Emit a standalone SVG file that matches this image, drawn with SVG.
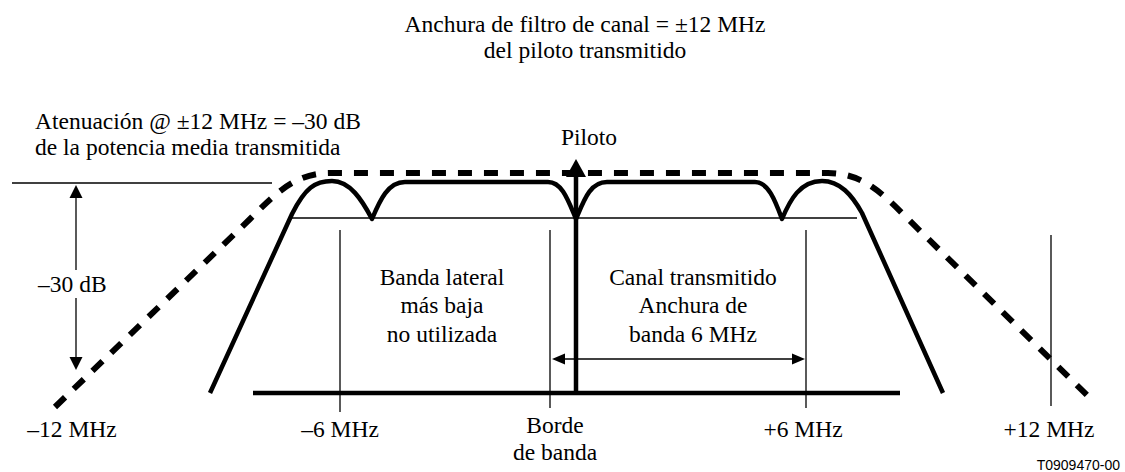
<svg xmlns="http://www.w3.org/2000/svg" width="1125" height="472" viewBox="0 0 1125 472">
<style>
.t{font-family:"Liberation Serif","Times New Roman",serif;font-size:23.5px;fill:#000}
.c{text-anchor:middle}
.s{font-family:"Liberation Sans",Arial,sans-serif;font-size:14px;fill:#000;text-anchor:end}
.thin{stroke:#000;stroke-width:1.3;fill:none}
.thick{stroke:#000;stroke-width:4.5;fill:none}
.curve{stroke:#000;stroke-width:4.5;fill:none;stroke-linejoin:round}
.dash{stroke:#000;stroke-width:6;fill:none;stroke-dasharray:14 12}
.ah{fill:#000}
</style>
<rect width="1125" height="472" fill="#fff"/>
<g id="curves">
<path id="mask-curve" class="dash" d="M55,407 L250,219 C275,194 295,173 330,173 H828 C863,173 883,194 908,219 L1090,398"/>
<path id="channel-curve" class="curve" d="M210,393 L292,214 C305,188 315,181 332,181 C350,181 362,200 372,219 C380,200 388,182 405,182 L548,182 C562,182 568,200 576,219 C584,200 590,182 607,182 L755,182 C768,182 775,200 782,219 C790,200 800,181 822,181 C840,181 852,195 862,213 L943,393"/>
</g>
<g id="connectors">
<line class="thin" x1="292" y1="218" x2="857" y2="218"/>
<line class="thin" x1="12" y1="183" x2="272" y2="183"/>
<line class="thick" x1="253" y1="393" x2="900" y2="393"/>
<line class="thin" x1="340" y1="230" x2="340" y2="412"/>
<line class="thin" x1="550" y1="230" x2="550" y2="408"/>
<line class="thin" x1="806" y1="230" x2="806" y2="408"/>
<line class="thin" x1="1051" y1="235" x2="1051" y2="406"/>
<line class="thick" x1="576" y1="395" x2="576" y2="172" stroke-width="4"/>
<polygon class="ah" points="576,159 566,177 586,177"/>
<line class="thin" x1="76" y1="196" x2="76" y2="270"/>
<line class="thin" x1="76" y1="298" x2="76" y2="359"/>
<polygon class="ah" points="76,185 69.5,198 82.5,198"/>
<polygon class="ah" points="76,370 69.5,357 82.5,357"/>
<line class="thin" x1="563" y1="359" x2="794" y2="359"/>
<polygon class="ah" points="552,359 565,353.5 565,364.5"/>
<polygon class="ah" points="805,359 792,353.5 792,364.5"/>
</g>
<g id="title">
<text class="t c" x="585" y="32">Anchura de filtro de canal = ±12 MHz</text>
<text class="t c" x="585" y="58">del piloto transmitido</text>
</g>
<g id="attenuation-label">
<text class="t" x="35" y="129">Atenuación @ ±12 MHz = –30 dB</text>
<text class="t" x="35" y="155">de la potencia media transmitida</text>
</g>
<g id="pilot-label"><text class="t c" x="589" y="145">Piloto</text></g>
<g id="db-label"><text class="t" x="38" y="292">–30 dB</text></g>
<g id="lower-sideband">
<text class="t c" x="442" y="285">Banda lateral</text>
<text class="t c" x="442" y="313">más baja</text>
<text class="t c" x="442" y="342">no utilizada</text>
</g>
<g id="channel-label">
<text class="t c" x="693" y="285">Canal transmitido</text>
<text class="t c" x="693" y="313">Anchura de</text>
<text class="t c" x="693" y="342">banda 6 MHz</text>
</g>
<g id="axis-labels">
<text class="t c" x="72" y="437">–12 MHz</text>
<text class="t c" x="340" y="437">–6 MHz</text>
<text class="t c" x="555" y="433">Borde</text>
<text class="t c" x="555" y="460">de banda</text>
<text class="t c" x="803" y="437">+6 MHz</text>
<text class="t c" x="1049" y="437">+12 MHz</text>
</g>
<g id="figure-id"><text class="s" x="1120" y="470">T0909470-00</text></g>
</svg>
